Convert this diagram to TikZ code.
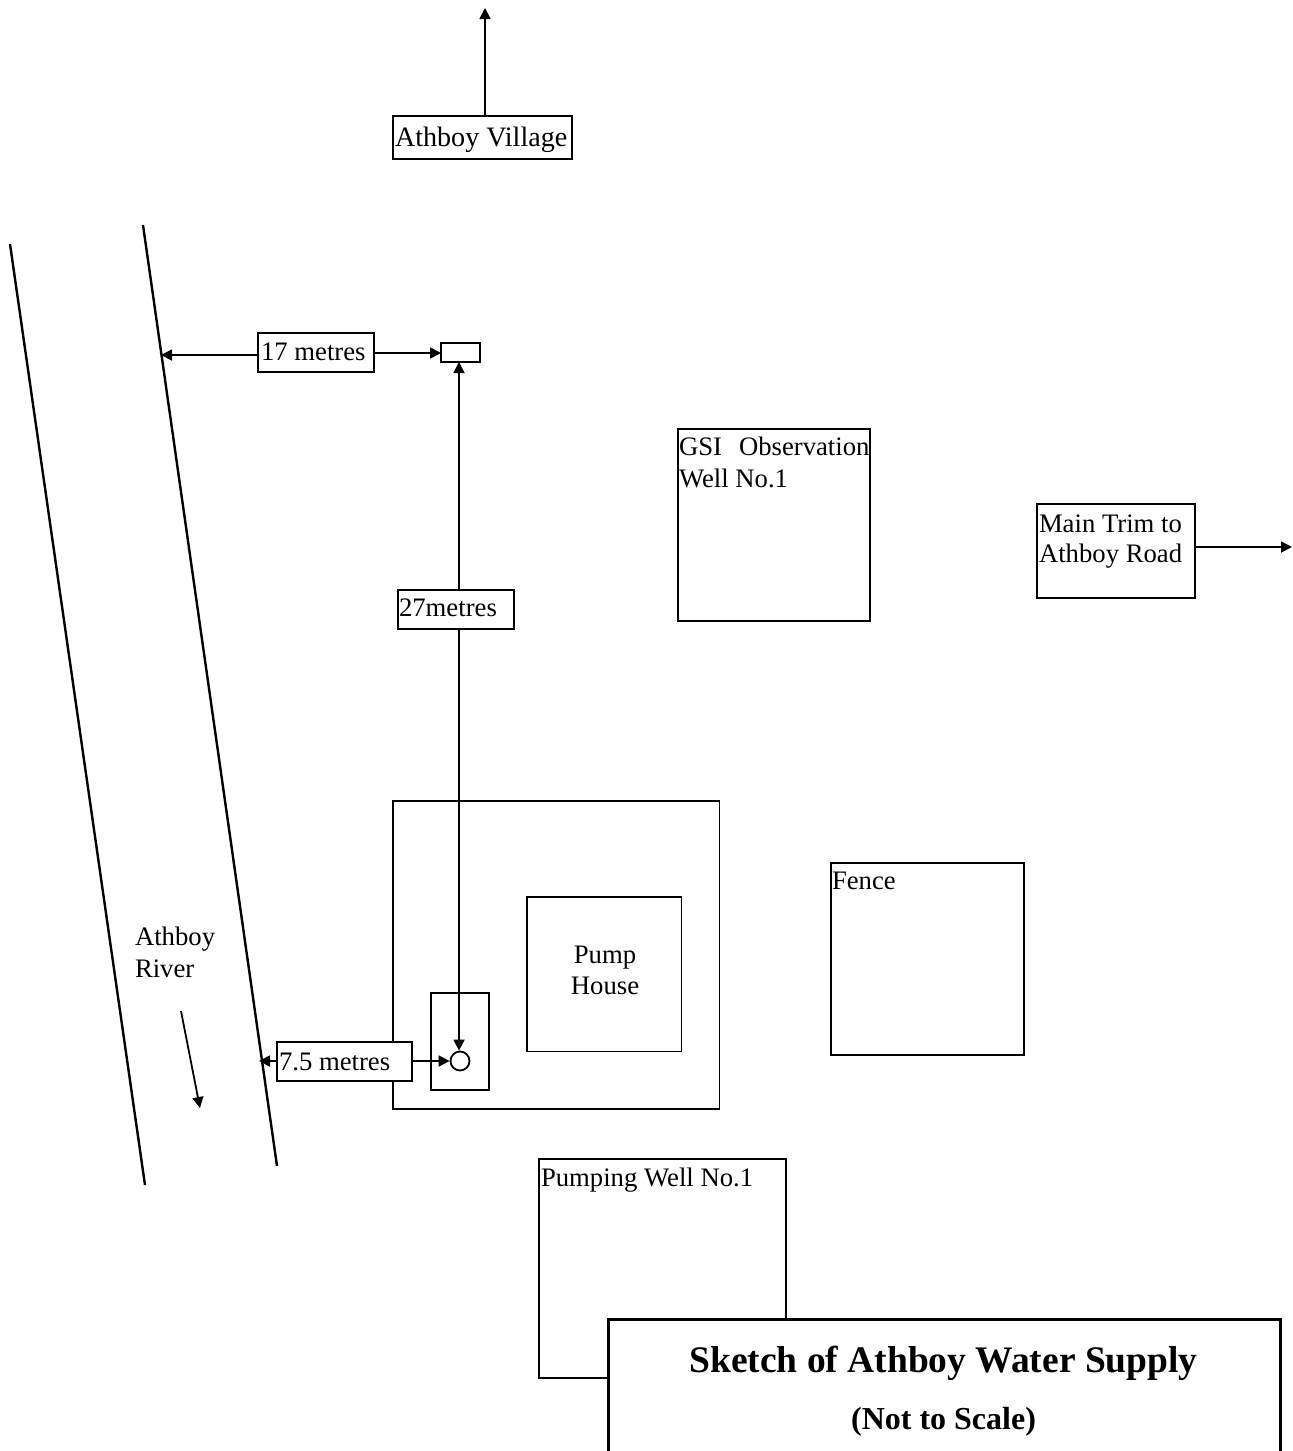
\documentclass[tikz,border=0pt]{standalone}
\usepackage{fontspec}
\setmainfont{Liberation Serif}
\usetikzlibrary{arrows.meta}
\tikzset{
  x=0.5pt,y=-0.5pt,
  boxy/.style={draw=black,line width=0.9pt,fill=white,rectangle,inner sep=0pt,outer sep=0pt,anchor=north west},
  lab/.style={inner sep=0pt,outer sep=0pt,anchor=base west,font=\fontsize{13.35}{15.5}\selectfont,align=left},
  conn/.style={draw=black,line width=0.9pt,-{Triangle[length=5.5pt,width=5.5pt]}},
  conntwo/.style={draw=black,line width=0.9pt,{Triangle[length=5.5pt,width=5.5pt]}-{Triangle[length=5.5pt,width=5.5pt]}},
  bank/.style={draw=black,line width=1.2pt}
}
\newcommand{\bx}[5]{\node[boxy,minimum width=#4*0.5pt,minimum height=#5*0.5pt] (#1) at (#2,#3) {};}
\begin{document}
\begin{tikzpicture}
\useasboundingbox (0,0) rectangle (1292,1451);
% river
\coordinate (b1a) at (10,244); \coordinate (b1b) at (145,1185);
\coordinate (b2a) at (143,225); \coordinate (b2b) at (277,1166);
\draw[bank] (b1a) -- (b1b);
\draw[bank] (b2a) -- (b2b);
\coordinate (fa) at (181,1011); \coordinate (fb) at (200,1108);
\draw[conn] (fa) -- (fb);
\node[lab] (river) at (135,945) {Athboy};
\node[lab] (river2) at (135,977) {River};
% village
\bx{village}{393}{116}{179}{43}
\node[lab,font=\fontsize{14.05}{15.5}\selectfont] (villaget) at (395,146) {Athboy Village};
\coordinate (north) at (485,8);
\draw[conn] (village.north -| north) -- (north);
% boxes
\bx{gsi}{678}{429}{192}{192}
\node[lab] (gsi1) at (679,455) {GSI\hspace{8.5pt}Observation};
\node[lab] (gsi2) at (679,487) {Well No.1};
\bx{trim}{1037}{504}{158}{94}
\node[lab] (trim1) at (1039,532) {Main Trim to};
\node[lab] (trim2) at (1039,562) {Athboy Road};
\coordinate (east) at (1292,547);
\draw[conn] (trim.east |- east) -- (east);
\bx{fence}{831}{863}{193}{192}
\node[lab] (fencet) at (832,889) {Fence};
\bx{yard}{393}{801}{326.5}{308}
\bx{pump}{527}{897}{154.5}{154.5}
\node[lab,anchor=base] (pump1) at (605,963) {Pump};
\node[lab,anchor=base] (pump2) at (605,994) {House};
\bx{chamber}{431}{993}{58}{97}
\node[draw=black,line width=0.9pt,fill=white,circle,inner sep=0pt,minimum size=9.5pt] (well) at (460,1061) {};
\bx{obs}{441}{343}{39}{19}
% dimensions
\draw[conntwo] ([xshift=-0.5pt]well.north) -- ([xshift=-0.5pt]well.north |- obs.south);
\bx{seventeen}{258}{333}{116}{39}
\node[lab] (seventeent) at (261,360) {17 metres};
\coordinate (bank17) at (161,355);
\coordinate (right17) at (0,353);
\draw[conn] (seventeen.east |- right17) -- (obs.west |- right17);
\draw[conn] (seventeen.west |- bank17) -- (bank17);
\bx{twentyseven}{398}{590}{116}{39}
\node[lab] (twentyseven) at (399,616) {27metres};
\bx{seven}{277}{1042}{135}{39}
\node[lab] (sevent) at (279,1070) {7.5 metres};
\coordinate (bank7) at (259,1061);
\draw[conn] (seven.west |- bank7) -- (bank7);
\draw[conn] (seven.east |- bank7) -- (well.west);
% pumping well + title
\bx{pumping}{539}{1159}{247}{219}
\node[draw=black,line width=1.4pt,fill=white,rectangle,inner sep=0pt,anchor=north west,minimum width=336pt,minimum height=80pt] (title) at (607,1318) {};
\node[lab] (pumpingt) at (541,1186) {Pumping Well No.1};
\node[anchor=base,inner sep=0pt,font=\bfseries\fontsize{18.75}{20}\selectfont] (titlea) at (943.5,1372) {Sketch of Athboy Water Supply};
\node[anchor=base,inner sep=0pt,font=\bfseries\fontsize{16}{18}\selectfont] (titleb) at (943.5,1429) {(Not to Scale)};
\end{tikzpicture}
\end{document}
